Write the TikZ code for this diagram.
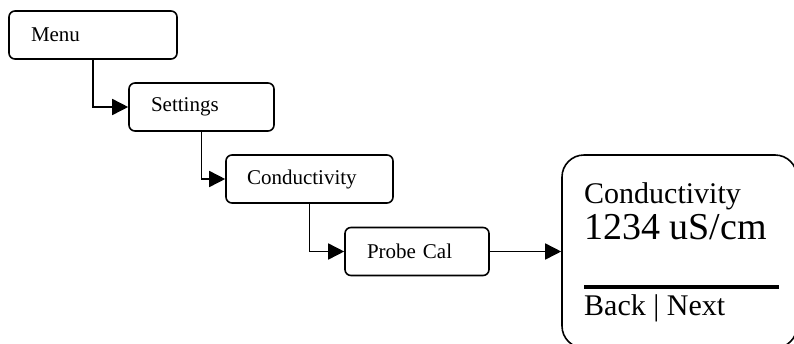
\documentclass[tikz,border=0pt]{standalone}
\usepackage{fontspec}
\setmainfont{Liberation Serif}
\usetikzlibrary{arrows.meta}
\begin{document}
\begin{tikzpicture}[x=1pt,y=-1pt,
  menubox/.style={draw, line width=1.6pt, rounded corners=6pt, minimum height=48pt,
    inner xsep=22pt, inner ysep=0pt, align=left, font=\fontsize{21}{25}\selectfont},
  conn/.style={line width=1.6pt, -{Triangle[length=16pt,width=16pt]}},
  disptext/.style={anchor=base west, inner sep=0pt},
]
\useasboundingbox (0,0) rectangle (794,343);
\node[menubox, text width=124pt] (menu) at (93,35) {Menu};
\node[menubox, text width=101pt] (settings) at (201.5,107) {Settings};
\node[menubox, inner xsep=21pt, text width=125pt] (cond) at (309.5,179) {Conductivity};
\node[menubox, text width=100pt] (probe) at (417,251.5) {Probe Cal};
\node[draw, line width=1.6pt, rounded corners=22pt, minimum width=235pt,
  minimum height=193pt, inner sep=0pt] (disp) at (679.5,251.5) {};
\node[disptext, font=\fontsize{30}{36}\selectfont] (t1) at (584,203) {Conductivity};
\node[disptext, font=\fontsize{38}{44}\selectfont] (t2) at (584,239) {1234 uS/cm};
\coordinate (l1) at (584,287);
\coordinate (l2) at (779,287);
\draw[line width=4pt] (l1) -- (l2);
\node[disptext, font=\fontsize{30}{36}\selectfont] (t3) at (584,315) {Back | Next};
\draw[conn] (menu.south) |- (settings.west);
\draw[conn] (settings.south) |- (cond.west);
\draw[conn] (cond.south) |- (probe.west);
\draw[conn] (probe.east) -- (disp.west);
\end{tikzpicture}
\end{document}
